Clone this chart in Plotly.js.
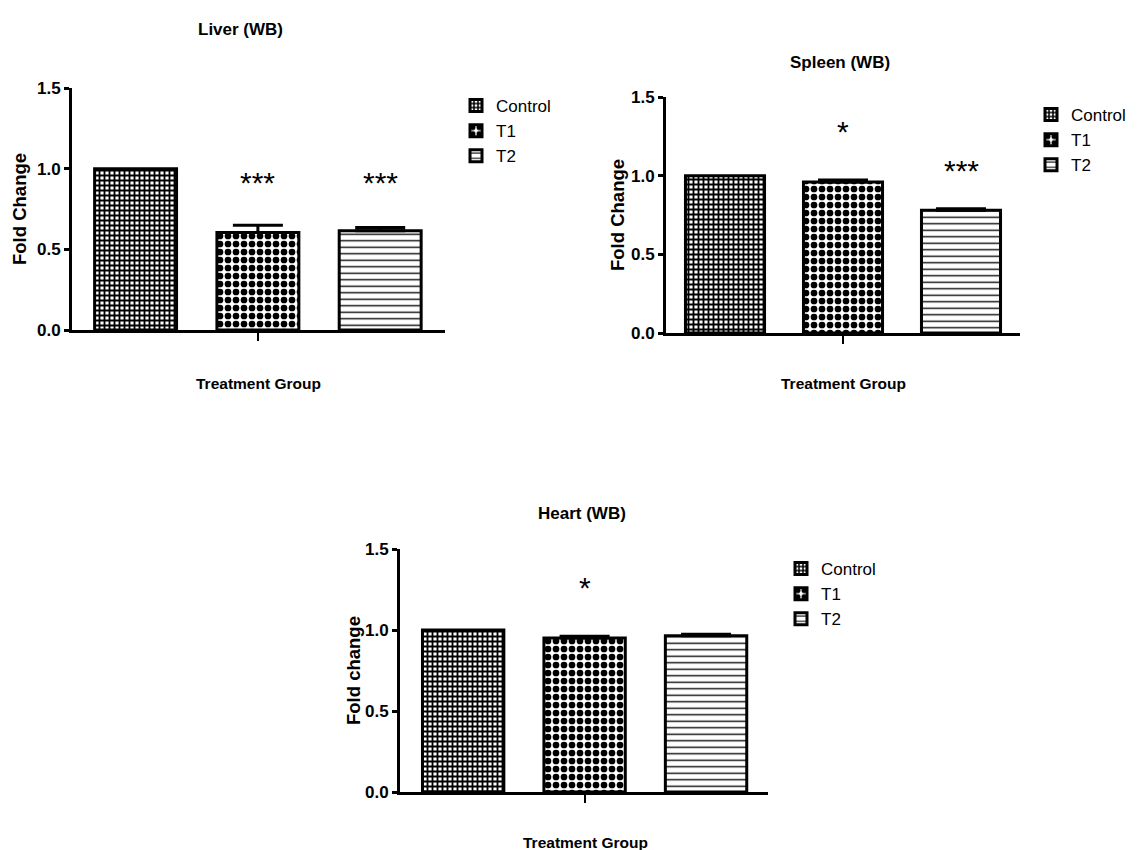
<!DOCTYPE html>
<html>
<head>
<meta charset="utf-8">
<script src="https://cdn.plot.ly/plotly-3.0.1.min.js"></script>
<style>html,body{margin:0;padding:0;background:#fff;}#chart{width:1145px;height:850px;}</style>
</head>
<body>
<div id="chart"></div>
<script>
// ---- data ----
const groups = ['Control', 'T1', 'T2'];

const liverValues = [1.0, 0.605, 0.615];
const liverErrors = [0.0, 0.045, 0.02];
const liverSig = ['', '***', '***'];
const liverSigY = [0, 0.93, 0.93];

const spleenValues = [1.0, 0.96, 0.78];
const spleenErrors = [0.0, 0.012, 0.01];
const spleenSig = ['', '*', '***'];
const spleenSigY = [0, 1.30, 1.05];

const heartValues = [1.0, 0.95, 0.965];
const heartErrors = [0.0, 0.012, 0.008];
const heartSig = ['', '*', ''];
const heartSigY = [0, 1.28, 0];

const yTickVals = [0, 0.5, 1.0, 1.5];
const yTickText = ['0.0', '0.5', '1.0', '1.5'];

const panels = [
  {title: 'Liver (WB)', ytitle: 'Fold Change', xtitle: 'Treatment Group', values: liverValues, errors: liverErrors, sig: liverSig, sigY: liverSigY},
  {title: 'Spleen (WB)', ytitle: 'Fold Change', xtitle: 'Treatment Group', values: spleenValues, errors: spleenErrors, sig: spleenSig, sigY: spleenSigY},
  {title: 'Heart (WB)', ytitle: 'Fold change', xtitle: 'Treatment Group', values: heartValues, errors: heartErrors, sig: heartSig, sigY: heartSigY}
];

// ---- styling / layout geometry ----
const W = 1145, H = 850;
const FONT = 'Liberation Sans, Arial, Helvetica, sans-serif';
const boxes = [
  {x0: 72, x1: 445, yTop: 88, yBot: 330, xr: [-0.52, 2.53], title: [240, 30], xt: [258, 383], yt: [20, 209], leg: [456, 88]},
  {x0: 666, x1: 1020, yTop: 97, yBot: 333, xr: [-0.5, 2.5], title: [840, 62], xt: [843, 383], yt: [617, 215], leg: [1031, 97]},
  {x0: 400, x1: 768, yTop: 549, yBot: 792, xr: [-0.52, 2.51], title: [582, 513], xt: [585, 842], yt: [353, 670], leg: [781, 551]}
];
const patterns = [
  {shape: '+', size: 5, solidity: 0.6, fgcolor: '#000', bgcolor: '#fff'},
  {shape: '.', size: 8, solidity: 0.55, fgcolor: '#000', bgcolor: '#fff'},
  {shape: '-', size: 6.5, solidity: 0.22, fgcolor: '#111', bgcolor: '#fff'}
];

const px = v => v / W;
const py = v => 1 - v / H;

const data = [];
const layout = {
  width: W, height: H,
  margin: {l: 0, r: 0, t: 0, b: 0},
  paper_bgcolor: '#fff', plot_bgcolor: '#fff',
  barmode: 'overlay', bargap: 0.33,
  font: {family: FONT, color: '#000'},
  annotations: [],
  showlegend: true
};

panels.forEach((p, i) => {
  const b = boxes[i];
  const sfx = i === 0 ? '' : String(i + 1);
  const legName = i === 0 ? 'legend' : 'legend' + (i + 1);
  groups.forEach((g, j) => {
    data.push({
      type: 'bar',
      x: [g], y: [p.values[j]],
      name: g,
      xaxis: 'x' + sfx, yaxis: 'y' + sfx,
      legend: legName,
      marker: {color: '#fff', line: {color: '#000', width: 3}, pattern: patterns[j]},
      error_y: {type: 'data', symmetric: false, array: [p.errors[j]], arrayminus: [0],
                visible: p.errors[j] > 0, color: '#000', thickness: 3, width: 25},
      hoverinfo: 'x+y'
    });
    if (p.sig[j]) {
      layout.annotations.push({
        xref: 'x' + sfx, yref: 'y' + sfx, x: g, y: p.sigY[j],
        text: p.sig[j], showarrow: false, font: {size: 30, family: FONT, color: '#000'},
        xanchor: 'center', yanchor: 'middle', yshift: -3
      });
    }
  });
  layout['xaxis' + sfx] = {
    domain: [px(b.x0), px(b.x1)], anchor: 'y' + sfx,
    type: 'category', categoryorder: 'array', categoryarray: groups,
    range: b.xr, showline: true, linecolor: '#000', linewidth: 3,
    tickmode: 'array', tickvals: ['T1'], ticktext: [''], ticks: 'outside', ticklen: 8, tickwidth: 2, tickcolor: '#000',
    showgrid: false, zeroline: false, fixedrange: true
  };
  layout['yaxis' + sfx] = {
    domain: [py(b.yBot), py(b.yTop)], anchor: 'x' + sfx,
    range: [0, 1.5], showline: true, linecolor: '#000', linewidth: 3,
    tickmode: 'array', tickvals: yTickVals, ticktext: yTickText,
    ticks: 'outside', ticklen: 5, tickwidth: 2.5, tickcolor: '#000',
    tickfont: {size: 17, family: FONT, weight: 'bold', color: '#000'},
    showgrid: false, zeroline: false, fixedrange: true
  };
  layout[legName] = {
    x: px(b.leg[0]), y: py(b.leg[1]), xanchor: 'left', yanchor: 'top',
    font: {size: 17, family: FONT, color: '#000'}, bgcolor: 'rgba(0,0,0,0)',
    itemclick: false, itemdoubleclick: false, tracegroupgap: 0
  };
  layout.annotations.push(
    {xref: 'paper', yref: 'paper', x: px(b.title[0]), y: py(b.title[1]), text: '<b>' + p.title + '</b>',
     showarrow: false, xanchor: 'center', yanchor: 'middle', font: {size: 17, family: FONT, color: '#000'}},
    {xref: 'paper', yref: 'paper', x: px(b.xt[0]), y: py(b.xt[1]), text: '<b>' + p.xtitle + '</b>',
     showarrow: false, xanchor: 'center', yanchor: 'middle', font: {size: 15.5, family: FONT, color: '#000'}},
    {xref: 'paper', yref: 'paper', x: px(b.yt[0]), y: py(b.yt[1]), text: '<b>' + p.ytitle + '</b>', textangle: -90,
     showarrow: false, xanchor: 'center', yanchor: 'middle', font: {size: 18.5, family: FONT, color: '#000'}}
  );
});

Plotly.newPlot('chart', data, layout, {displayModeBar: false});
</script>
</body>
</html>
